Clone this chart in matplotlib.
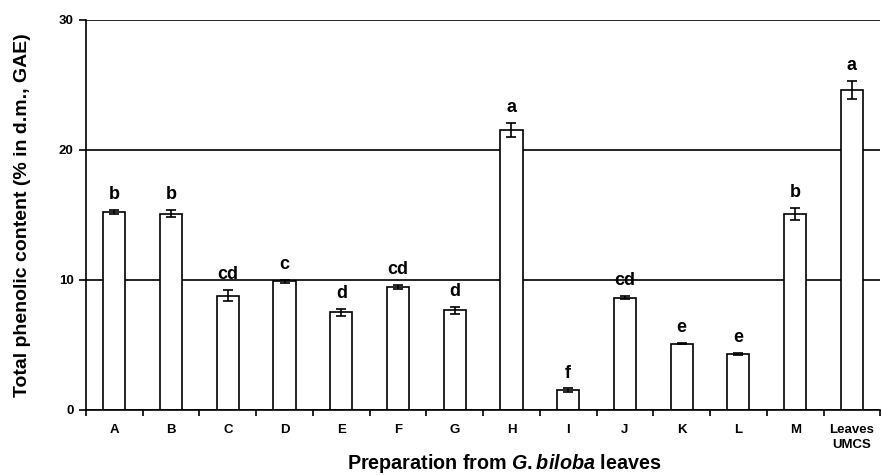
import numpy as np
import matplotlib
matplotlib.use('Agg')
import matplotlib.pyplot as plt

plt.rcParams['font.family'] = 'Liberation Sans'
plt.rcParams['font.weight'] = 'bold'
plt.rcParams['mathtext.fontset'] = 'custom'
plt.rcParams['mathtext.it'] = 'Liberation Sans:bold:italic'
plt.rcParams['mathtext.rm'] = 'Liberation Sans:bold'

samples = ['A', 'B', 'C', 'D', 'E', 'F', 'G', 'H', 'I', 'J', 'K', 'L', 'M',
           'Leaves\nUMCS']
phenolics = [15.2, 15.1, 8.8, 9.9, 7.5, 9.45, 7.65, 21.55, 1.5, 8.63, 5.1,
             4.3, 15.05, 24.6]
sd = [0.15, 0.25, 0.4, 0.1, 0.3, 0.15, 0.25, 0.55, 0.15, 0.12, 0.02, 0.1,
      0.45, 0.7]
groups = ['b', 'b', 'cd', 'c', 'd', 'cd', 'd', 'a', 'f', 'cd', 'e', 'e',
          'b', 'a']

x = np.arange(len(samples))

fig = plt.figure(figsize=(8.82, 4.75), dpi=100)
ax = fig.add_axes([0.0975, 0.137, 0.9005, 0.821])

ax.set_axisbelow(True)
ax.bar(x, phenolics, width=0.39, color='white', edgecolor='black',
       linewidth=1.2, zorder=2)
ax.errorbar(x, phenolics, yerr=sd, fmt='none', ecolor='black',
            elinewidth=1.2, capsize=3.5, capthick=1.2, zorder=3)

for xi, v, e, g in zip(x, phenolics, sd, groups):
    ax.annotate(g, xy=(xi, v + e), xytext=(0, 5), textcoords='offset points',
                ha='center', va='bottom', fontsize=13, fontweight='bold')

ax.set_xlim(-0.5, len(samples) - 0.5)
ax.set_ylim(0, 30)
ax.set_yticks([0, 10, 20, 30])
ax.yaxis.grid(True, color='black', linewidth=1.2)

# boundary ticks between bars, category names on minor ticks
ax.set_xticks(np.arange(len(samples) + 1) - 0.5)
ax.set_xticklabels([])
ax.set_xticks(x, minor=True)
ax.set_xticklabels(samples, minor=True, fontsize=9.5, fontweight='bold',
                   linespacing=1.35, va='top')
ax.tick_params(axis='x', which='major', length=4, width=1.2, direction='out')
ax.tick_params(axis='x', which='minor', length=0, pad=10)
ax.tick_params(axis='y', length=5, width=1.2, labelsize=9.5, pad=4)
for lbl in ax.get_yticklabels():
    lbl.set_fontweight('bold')

for s in ['top', 'right']:
    ax.spines[s].set_visible(False)
for s in ['left', 'bottom']:
    ax.spines[s].set_linewidth(1.2)

ax.set_ylabel('Total phenolic content (% in d.m., GAE)', fontsize=14,
              fontweight='bold')
ax.yaxis.set_label_coords(-0.069, 0.5)
ax.set_xlabel(r'Preparation from $\mathit{G{.}biloba}$ leaves', fontsize=14.2,
              fontweight='bold')
ax.xaxis.set_label_coords(0.526, -0.108)

fig.savefig('out.png', dpi=100)
